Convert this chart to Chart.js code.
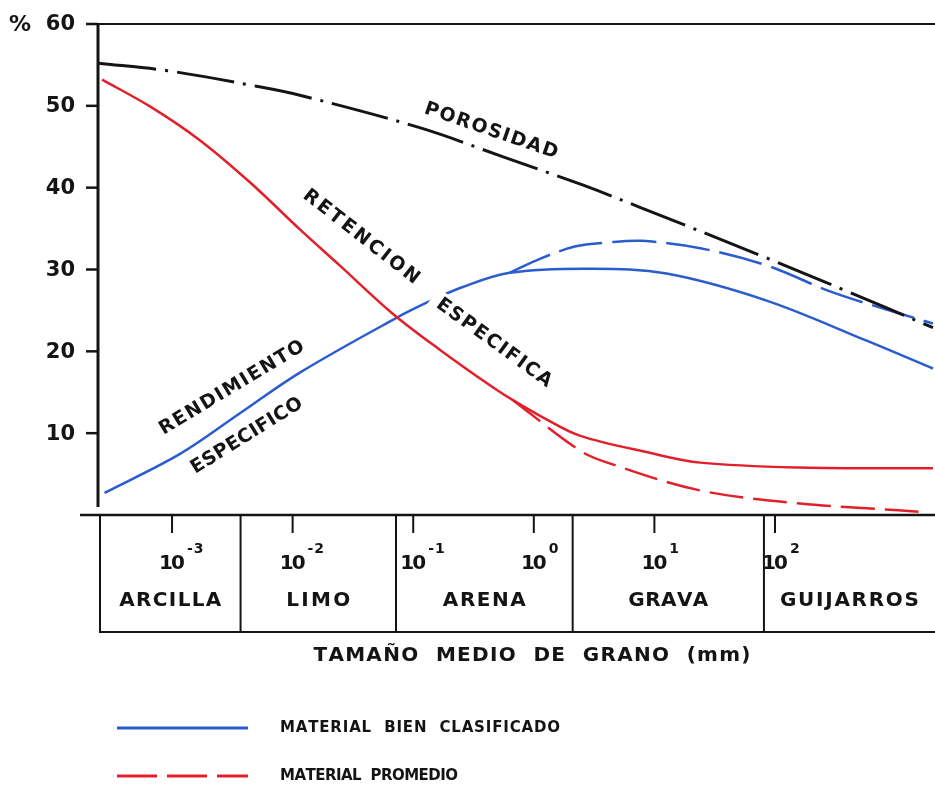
<!DOCTYPE html>
<html>
<head>
    <meta charset="utf-8">
    <title>Porosidad, rendimiento y retención específica</title>
    <script src="https://cdn.jsdelivr.net/npm/chart.js"></script>
    <style>
        body { margin: 0; background: #fff; }
        #wrap { width: 935px; height: 790px; }
    </style>
</head>
<body>
    <div id="wrap"><canvas id="myChart"></canvas></div>
    <script>
        // grain size is kept as log10(mm), values are %
        var porosidadExp = [-3.61, -3.04, -2.30, -1.94, -0.94, -0.26, 0.41, 0.88, 1.90, 2.62, 3.31];
        var porosidadVal = [55.2, 54.3, 52.4, 51.3, 47.3, 43.8, 40.3, 37.6, 31.6, 27.2, 22.9];

        var retencionExp = [-3.58, -3.18, -2.77, -2.35, -1.94, -1.61, -1.17, -0.78, -0.34, -0.17, 0.09, 0.38, 0.96, 1.38, 2.21, 3.31];
        var retencionVal = [53.2, 49.9, 45.8, 40.6, 34.9, 30.5, 24.6, 20.2, 15.6, 14.0, 11.8, 9.7, 7.6, 6.4, 5.8, 5.7];

        // dashed branch forks off the solid curve
        var retencionPromExp = [-0.17, 0.38, 0.61, 1.38, 2.21, 2.79, 3.20];
        var retencionPromVal = [14.0, 7.9, 6.4, 3.0, 1.4, 0.8, 0.4];

        var rendimientoExp = [-3.56, -2.93, -2.44, -1.94, -1.15, -0.88, -0.60, -0.20, 0.47, 1.10, 1.93, 2.76, 3.31];
        var rendimientoVal = [2.7, 7.5, 12.4, 17.4, 24.0, 26.0, 27.8, 29.6, 30.1, 29.5, 26.2, 21.3, 17.9];

        var rendimientoPromExp = [-0.20, 0.05, 0.34, 0.61, 0.90, 1.38, 1.93, 2.48, 3.04, 3.31];
        var rendimientoPromVal = [29.6, 31.3, 32.8, 33.3, 33.5, 32.6, 30.5, 27.2, 24.6, 23.4];

        var yTicks = [10, 20, 30, 40, 50, 60];
        var powers = [-3, -2, -1, 0, 1, 2];
        var classes = ['ARCILLA', 'LIMO', 'ARENA', 'GRAVA', 'GUIJARROS'];
        var classWidths = [102, 64, 83, 80, 139];
        var classBounds = [0.0037, 0.072, 2.1, 81];   // mm

        var BLUE = '#2b5cce';
        var RED = '#e2202b';
        var INK = '#141414';
        var FONT = '"DejaVu Sans", sans-serif';

        function toPoints(exps, vals) {
            return exps.map(function (e, i) { return { x: Math.pow(10, e), y: vals[i] }; });
        }

        // text with extra space between letters
        function charWidths(ctx, text) {
            return text.split('').map(function (c) { return ctx.measureText(c).width; });
        }
        function spaced(ctx, text, x, y, spacing, align) {
            var w = charWidths(ctx, text);
            var total = w.reduce(function (a, b) { return a + b; }, 0) + spacing * (text.length - 1);
            var start = align === 'center' ? x - total / 2 : (align === 'right' ? x - total : x);
            ctx.textAlign = 'left';
            for (var i = 0; i < text.length; i++) {
                ctx.fillText(text[i], start, y);
                start += w[i] + spacing;
            }
            return total;
        }
        function fitted(ctx, text, x, y, len, align) {
            var sum = charWidths(ctx, text).reduce(function (a, b) { return a + b; }, 0);
            return spaced(ctx, text, x, y, (len - sum) / (text.length - 1), align);
        }
        function curveLabel(ctx, text, cx, cy, deg, len, knockout) {
            ctx.save();
            ctx.translate(cx, cy);
            ctx.rotate(deg * Math.PI / 180);
            ctx.font = 'bold 19px ' + FONT;
            ctx.textBaseline = 'middle';
            if (knockout) {
                ctx.fillStyle = '#fff';
                ctx.fillRect(-len / 2 - 8, -12, len + 14, 24);
            }
            ctx.fillStyle = INK;
            fitted(ctx, text, 0, 0, len, 'center');
            ctx.restore();
        }

        var decor = {
            id: 'decor',
            beforeDraw: function (chart) {
                var ctx = chart.ctx;
                ctx.save();
                ctx.fillStyle = '#fff';
                ctx.fillRect(0, 0, chart.width, chart.height);
                ctx.restore();
            },
            afterDatasetsDraw: function (chart) {
                var ctx = chart.ctx;
                curveLabel(ctx, 'POROSIDAD', 491, 131, 19, 140, false);
                curveLabel(ctx, 'RETENCION', 361, 237, 38, 142, false);
                curveLabel(ctx, 'ESPECIFICA', 494, 343, 36, 138, true);
                curveLabel(ctx, 'RENDIMIENTO', 232, 388, -31, 166, false);
                curveLabel(ctx, 'ESPECIFICO', 247, 436, -32, 128, false);
            },
            afterDraw: function (chart) {
                var ctx = chart.ctx;
                var xs = chart.scales.x, ys = chart.scales.y;
                var left = chart.chartArea.left, right = chart.width;
                var y0 = ys.getPixelForValue(0);
                var yTop = ys.getPixelForValue(60);
                var boxBottom = y0 + 117;
                var boxLeft = left + 2;

                ctx.save();
                ctx.strokeStyle = INK;
                ctx.fillStyle = INK;
                ctx.lineCap = 'butt';

                // frame: top line, y axis, x axis
                ctx.lineWidth = 2;
                ctx.beginPath();
                ctx.moveTo(left - 10, yTop); ctx.lineTo(right, yTop);
                ctx.stroke();
                ctx.lineWidth = 3;
                ctx.beginPath();
                ctx.moveTo(left, yTop); ctx.lineTo(left, y0 - 8);
                ctx.stroke();
                ctx.lineWidth = 2.5;
                ctx.beginPath();
                ctx.moveTo(left - 18, y0); ctx.lineTo(right, y0);
                ctx.stroke();

                // y ticks and labels
                ctx.font = 'bold 21px ' + FONT;
                ctx.textBaseline = 'middle';
                yTicks.forEach(function (v) {
                    var py = ys.getPixelForValue(v);
                    ctx.lineWidth = 2.5;
                    ctx.beginPath();
                    ctx.moveTo(left - 12, py); ctx.lineTo(left, py);
                    ctx.stroke();
                    spaced(ctx, String(v), left - 23, py + 1, 0, 'right');
                });
                ctx.font = 'bold 22px ' + FONT;
                ctx.textAlign = 'left';
                ctx.fillText('%', 9, yTop + 1);

                // class box
                ctx.lineWidth = 2;
                ctx.beginPath();
                ctx.moveTo(boxLeft, y0); ctx.lineTo(boxLeft, boxBottom);
                ctx.lineTo(right, boxBottom);
                ctx.stroke();
                var edges = [boxLeft];
                classBounds.forEach(function (b) {
                    var px = xs.getPixelForValue(b);
                    edges.push(px);
                    ctx.beginPath();
                    ctx.moveTo(px, y0); ctx.lineTo(px, boxBottom);
                    ctx.stroke();
                });
                edges.push(right);

                // powers of ten
                powers.forEach(function (p) {
                    var px = xs.getPixelForValue(Math.pow(10, p));
                    ctx.lineWidth = 2;
                    ctx.beginPath();
                    ctx.moveTo(px, y0); ctx.lineTo(px, y0 + 18);
                    ctx.stroke();
                    ctx.textBaseline = 'alphabetic';
                    ctx.font = 'bold 20px ' + FONT;
                    var w = spaced(ctx, '10', px, y0 + 54, -2, 'center');
                    ctx.font = 'bold 14px ' + FONT;
                    var sup = p < 0 ? '-' + (-p) : String(p);
                    spaced(ctx, sup, px + w / 2 + 2, y0 + 38, 1, 'left');
                });

                // class names
                ctx.font = 'bold 20px ' + FONT;
                ctx.textBaseline = 'middle';
                classes.forEach(function (c, i) {
                    var cx = (edges[i] + edges[i + 1]) / 2;
                    fitted(ctx, c, cx, y0 + 86, classWidths[i], 'center');
                });

                // axis title
                ctx.font = 'bold 20px ' + FONT;
                fitted(ctx, 'TAMAÑO  MEDIO  DE  GRANO  (mm)', 532, boxBottom + 24, 437, 'center');

                // legend
                var items = [
                    { text: 'MATERIAL  BIEN  CLASIFICADO', color: BLUE, dash: [], y: 728, len: 280 },
                    { text: 'MATERIAL  PROMEDIO', color: RED, dash: [40, 10], y: 776, len: 178 }
                ];
                items.forEach(function (it) {
                    ctx.strokeStyle = it.color;
                    ctx.lineWidth = 3;
                    ctx.setLineDash(it.dash);
                    ctx.beginPath();
                    ctx.moveTo(117, it.y); ctx.lineTo(248, it.y);
                    ctx.stroke();
                    ctx.setLineDash([]);
                    ctx.fillStyle = INK;
                    ctx.font = 'bold 15px ' + FONT;
                    fitted(ctx, it.text, 280, it.y, it.len, 'left');
                });
                ctx.restore();
            }
        };

        var ctx = document.getElementById('myChart').getContext('2d');
        new Chart(ctx, {
            type: 'line',
            data: {
                datasets: [
                    {
                        label: 'Porosidad',
                        data: toPoints(porosidadExp, porosidadVal),
                        borderColor: INK, borderWidth: 3,
                        borderDash: [58, 9, 3, 9]
                    },
                    {
                        label: 'Retención específica (promedio)',
                        data: toPoints(retencionPromExp, retencionPromVal),
                        borderColor: RED, borderWidth: 2.5,
                        borderDash: [34, 10]
                    },
                    {
                        label: 'Retención específica',
                        data: toPoints(retencionExp, retencionVal),
                        borderColor: RED, borderWidth: 2.5
                    },
                    {
                        label: 'Rendimiento específico (promedio)',
                        data: toPoints(rendimientoPromExp, rendimientoPromVal),
                        borderColor: BLUE, borderWidth: 2.5,
                        borderDash: [44, 10]
                    },
                    {
                        label: 'Rendimiento específico',
                        data: toPoints(rendimientoExp, rendimientoVal),
                        borderColor: BLUE, borderWidth: 2.5
                    }
                ]
            },
            options: {
                responsive: true,
                maintainAspectRatio: false,
                animation: false,
                layout: { padding: { left: 98, right: 0, top: 24, bottom: 275 } },
                elements: {
                    point: { radius: 0 },
                    line: { fill: false, tension: 0.35, borderCapStyle: 'butt' }
                },
                plugins: {
                    legend: { display: false },
                    tooltip: { enabled: false }
                },
                scales: {
                    x: { type: 'logarithmic', display: false, min: Math.pow(10, -3.614), max: Math.pow(10, 3.327) },
                    y: { type: 'linear', display: false, min: 0, max: 60 }
                }
            },
            plugins: [decor]
        });
    </script>
</body>
</html>
